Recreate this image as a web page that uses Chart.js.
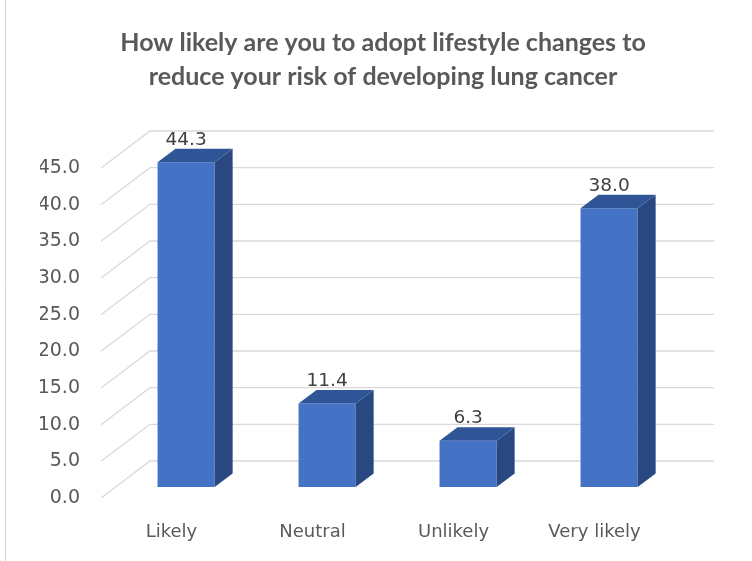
<!DOCTYPE html>
<html>
<head>
<meta charset="utf-8">
<script src="https://cdn.jsdelivr.net/npm/chart.js@4.4.1/dist/chart.umd.min.js"></script>
<style>
  html, body { margin: 0; padding: 0; background: #fff; }
  #wrap { width: 752px; height: 561px; position: relative; }
</style>
</head>
<body>
<div id="wrap"><canvas id="lungChart" width="752" height="561"></canvas></div>
<script>
// survey answers (%)
const categories = ['Likely', 'Neutral', 'Unlikely', 'Very likely'];
const percentages = [44.3, 11.4, 6.3, 38.0];
const titleLines = [
    'How likely are you to adopt lifestyle changes to',
    'reduce your risk of developing lung cancer'
];
const yMin = 0;
const yMax = 45;
const yStep = 5;

// fake 3d: back wall offset, bar plane offset, bar depth
const WALL_DX = 49, WALL_DY = 37;
const PLANE_DX = 14.6, PLANE_DY = 11;
const DEPTH_DX = 18, DEPTH_DY = 13.5;

const frameLine = {
    id: 'frameLine',
    beforeDraw(chart) {
        const ctx = chart.ctx;
        ctx.save();
        ctx.strokeStyle = '#d9d9d9';
        ctx.lineWidth = 1;
        ctx.beginPath();
        ctx.moveTo(5.5, 0);
        ctx.lineTo(5.5, chart.height);
        ctx.stroke();
        ctx.restore();
    }
};

const bars3d = {
    id: 'bars3d',
    beforeDatasetsDraw(chart) {
        const ctx = chart.ctx;
        const area = chart.chartArea;
        const y = chart.scales.y;
        ctx.save();
        ctx.strokeStyle = '#d9d9d9';
        ctx.lineWidth = 1.3;
        y.ticks.forEach(t => {
            const py = y.getPixelForValue(t.value);
            ctx.beginPath();
            ctx.moveTo(area.left, py);
            ctx.lineTo(area.left + WALL_DX, py - WALL_DY);
            ctx.lineTo(area.right + WALL_DX, py - WALL_DY);
            ctx.stroke();
        });
        ctx.restore();
        // bars sit a bit behind the label plane
        ctx.save();
        ctx.translate(PLANE_DX, -PLANE_DY);
    },
    afterDatasetsDraw(chart) {
        const ctx = chart.ctx;
        const meta = chart.getDatasetMeta(0);
        meta.data.forEach((bar, i) => {
            const p = bar.getProps(['x', 'y', 'base', 'width'], true);
            const l = p.x - p.width / 2, r = p.x + p.width / 2;
            // side
            ctx.fillStyle = '#294881';
            ctx.beginPath();
            ctx.moveTo(r, p.y);
            ctx.lineTo(r + DEPTH_DX, p.y - DEPTH_DY);
            ctx.lineTo(r + DEPTH_DX, p.base - DEPTH_DY);
            ctx.lineTo(r, p.base);
            ctx.closePath();
            ctx.fill();
            // top
            ctx.fillStyle = '#2f5597';
            ctx.beginPath();
            ctx.moveTo(l, p.y);
            ctx.lineTo(l + DEPTH_DX, p.y - DEPTH_DY);
            ctx.lineTo(r + DEPTH_DX, p.y - DEPTH_DY);
            ctx.lineTo(r, p.y);
            ctx.closePath();
            ctx.fill();
            // value label
            ctx.fillStyle = '#404040';
            ctx.font = '18.5px "DejaVu Sans"';
            ctx.textAlign = 'center';
            ctx.textBaseline = 'alphabetic';
            ctx.fillText(percentages[i].toFixed(1), p.x, p.y - DEPTH_DY - 4);
        });
        ctx.restore();
    }
};

new Chart(document.getElementById('lungChart'), {
    type: 'bar',
    data: {
        labels: categories,
        datasets: [{
            data: percentages,
            backgroundColor: '#4472c4',
            borderWidth: 0,
            barPercentage: 0.405,
            categoryPercentage: 1,
            clip: false
        }]
    },
    options: {
        responsive: false,
        animation: false,
        layout: { padding: { left: 40, right: 26, top: 0, bottom: 17 } },
        plugins: {
            legend: { display: false },
            tooltip: { enabled: false },
            title: {
                display: true,
                text: titleLines,
                color: '#595959',
                font: { family: 'Lato', size: 25, weight: 'bold', lineHeight: 1.36 },
                padding: { top: 26, bottom: 74 }
            }
        },
        scales: {
            x: {
                grid: { display: false, drawTicks: false },
                border: { display: false },
                ticks: { color: '#595959', font: { family: 'DejaVu Sans', size: 18 }, padding: 24 },
                afterFit(scale) { scale.height = 46; }
            },
            y: {
                min: yMin,
                max: yMax,
                grid: { display: false, drawTicks: false },
                border: { display: false },
                ticks: {
                    stepSize: yStep,
                    color: '#595959',
                    font: { family: 'DejaVu Sans', size: 19 },
                    padding: 21,
                    callback: v => Number(v).toFixed(1)
                },
                afterFit(scale) { scale.width = 61; }
            },
            // empty right-hand strip that holds the back wall's overhang
            wall: {
                type: 'linear',
                position: 'right',
                grid: { display: false, drawTicks: false },
                border: { display: false },
                ticks: { display: false },
                afterFit(scale) { scale.width = 61; }
            }
        }
    },
    plugins: [frameLine, bars3d]
});
</script>
</body>
</html>
